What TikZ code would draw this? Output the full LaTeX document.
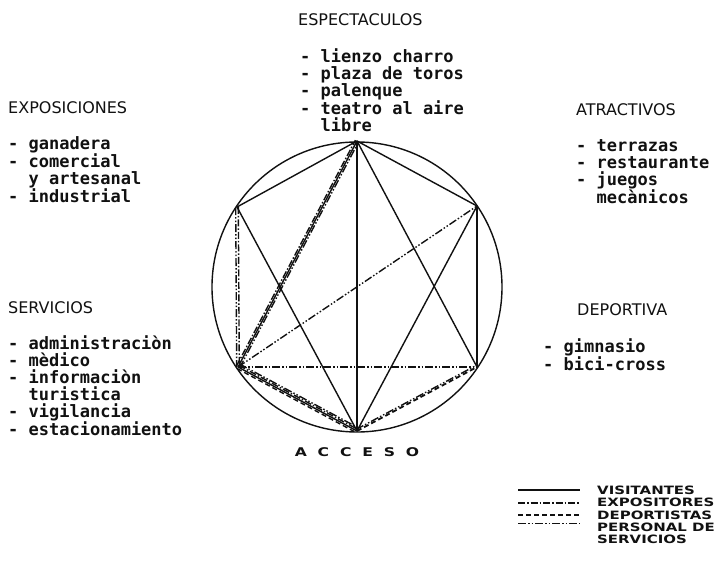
\documentclass[tikz,border=0pt]{standalone}
\usepackage{fontspec}
\setmainfont{DejaVu Sans}
\newfontfamily\headfont{DejaVu Sans}
\newfontfamily\itemfont{DejaVu Sans Mono}[UprightFont=* Bold]
\newfontfamily\legendfont{DejaVu Sans}[UprightFont=* Bold, FakeStretch=1.3]
\usetikzlibrary{calc}
\definecolor{inkline}{HTML}{111111}
\tikzset{
  head/.style={anchor=base west, inner sep=0pt, text=inkline, font=\headfont\fontsize{16}{17}\selectfont},
  items/.style={anchor=north west, inner sep=0pt, align=left, text=inkline, font=\itemfont\fontsize{17}{17}\selectfont},
  legend/.style={anchor=base west, inner sep=0pt, align=left, text=inkline, font=\legendfont\fontsize{11.5}{12}\selectfont},
  access/.style={inner sep=0pt, text=inkline, font=\legendfont\fontsize{12}{12}\selectfont},
  visit/.style={draw=inkline, line width=1.4pt},
  expo/.style={visit, dash pattern=on 7pt off 2pt on 1.5pt off 2pt},
  sport/.style={visit, dash pattern=on 5pt off 3pt},
  staff/.style={visit, dash pattern=on 8pt off 2pt on 1.5pt off 2pt on 1.5pt off 2pt}
}

\begin{document}
\begin{tikzpicture}[x=1pt, y=-1pt]
\fill[white] (0,0) rectangle (716,572);
\useasboundingbox (0,0) rectangle (716,572);

% zones round the plan
\node[head] (esphead) at (298,26) {ESPECTACULOS};
\node[items] (espitems) at (300,48) {- lienzo charro\\- plaza de toros\\- palenque\\- teatro al aire\\\ \ libre};

\node[head] (exphead) at (8,114) {EXPOSICIONES};
\node[items] (expitems) at (8,136) {- ganadera\\- comercial\\\ \ y artesanal\\- industrial};

\node[head] (atrhead) at (576,116) {ATRACTIVOS};
\node[items] (atritems) at (576,139) {- terrazas\\- restaurante\\- juegos\\\ \ mecànicos};

\node[head] (serhead) at (8,314) {SERVICIOS};
\node[items] (seritems) at (8,335) {- administraciòn\\- mèdico\\- informaciòn\\\ \ turistica\\- vigilancia\\- estacionamiento};

\node[head] (dephead) at (577,316) {DEPORTIVA};
\node[items] (depitems) at (543,338) {- gimnasio\\- bici-cross};

\node[access] (acceso) at (357,452) {A\ \ C\ \ C\ \ E\ \ S\ \ O};

% plan
\coordinate (centre) at (357,287);
\coordinate (esp) at (357,141);
\coordinate (exp) at (237,207);
\coordinate (atr) at (477,206);
\coordinate (ser) at (238,367);
\coordinate (dep) at (477,367);
\coordinate (acc) at (357,431);

\draw[visit] (centre) circle[radius=145];

\draw[visit] (esp) -- (exp);
\draw[visit] (esp) -- (atr);
\draw[visit] (atr) -- (dep);
\draw[visit] (esp) -- (acc);
\draw[visit] (esp) -- (dep);
\draw[visit] (exp) -- (acc);
\draw[visit] (atr) -- (acc);
\draw[staff] (ser) -- (atr);
\draw[staff] (ser) -- (dep);

\draw[expo] ($(exp)!1.3pt!90:(ser)$) -- ($(ser)!1.3pt!-90:(exp)$);
\draw[staff] ($(exp)!-1.3pt!90:(ser)$) -- ($(ser)!-1.3pt!-90:(exp)$);

\draw[visit] (ser) -- (esp);
\draw[expo] ($(ser)!1.8pt!90:(esp)$) -- ($(esp)!1.8pt!-90:(ser)$);
\draw[staff] ($(ser)!-1.8pt!90:(esp)$) -- ($(esp)!-1.8pt!-90:(ser)$);

\draw[visit] (ser) -- (acc);
\draw[expo] ($(ser)!1.8pt!90:(acc)$) -- ($(acc)!1.8pt!-90:(ser)$);
\draw[sport] ($(ser)!-1.8pt!90:(acc)$) -- ($(acc)!-1.8pt!-90:(ser)$);
\draw[staff] ($(ser)!3.4pt!90:(acc)$) -- ($(acc)!3.4pt!-90:(ser)$);

\draw[sport, line width=1.8pt] (acc) -- (dep);
\draw[staff] ($(acc)!1.8pt!90:(dep)$) -- ($(dep)!1.8pt!-90:(acc)$);

% legend
\node[legend] (lvis) at (597,494) {VISITANTES};
\node[legend] (lexpo) at (597,507) {EXPOSITORES};
\node[legend] (lsport) at (597,519) {DEPORTISTAS};
\node[legend, anchor=north west] (lstaff) at (597,522.6) {PERSONAL DE\\SERVICIOS};

\draw[visit] ([xshift=-79pt]lvis.west) -- ([xshift=-17pt]lvis.west);
\draw[expo] ([xshift=-79pt]lexpo.west) -- ([xshift=-17pt]lexpo.west);
\draw[sport] ([xshift=-79pt]lsport.west) -- ([xshift=-17pt]lsport.west);
\draw[staff] ([xshift=-79pt,yshift=-1pt]lstaff.north west) -- ([xshift=-17pt,yshift=-1pt]lstaff.north west);

\end{tikzpicture}
\end{document}
